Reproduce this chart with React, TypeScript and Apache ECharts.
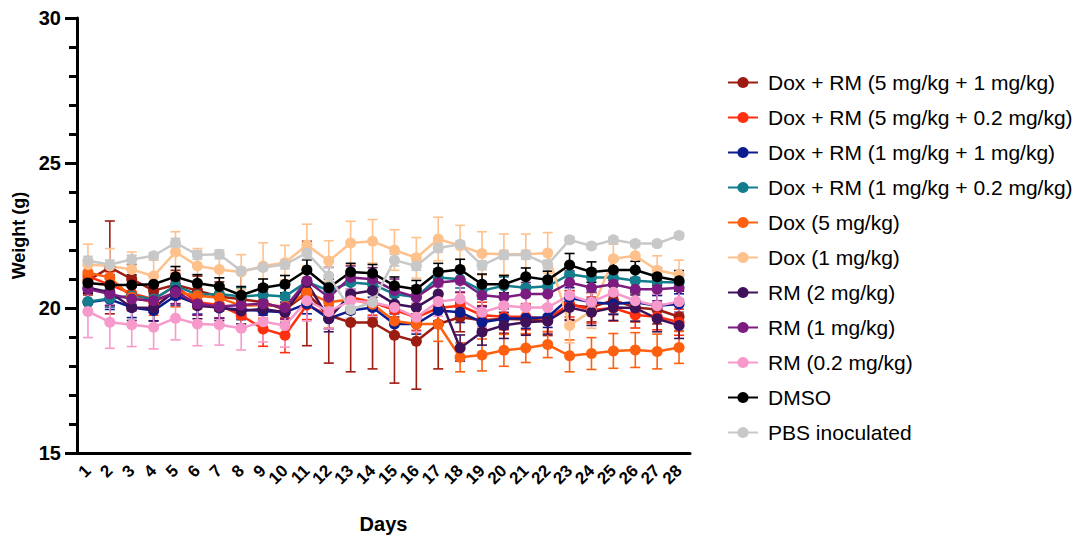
import React, { useEffect, useRef } from "react";
import * as echarts from "echarts";

const days = ["1","2","3","4","5","6","7","8","9","10","11","12","13","14","15","16","17","18","19","20","21","22","23","24","25","26","27","28"];
const yTicks = [15, 20, 25, 30];

const names = [
  "Dox + RM (5 mg/kg + 1 mg/kg)",
  "Dox + RM (5 mg/kg + 0.2 mg/kg)",
  "Dox + RM (1 mg/kg + 1 mg/kg)",
  "Dox + RM (1 mg/kg + 0.2 mg/kg)",
  "Dox (5 mg/kg)",
  "Dox (1 mg/kg)",
  "RM (2 mg/kg)",
  "RM (1 mg/kg)",
  "RM (0.2 mg/kg)",
  "DMSO",
  "PBS inoculated",
];
const colors = ["#9C1C12","#FF3010","#0B1C8F","#127D8C","#FF600F","#FFC18C","#3F1158","#7D1C80","#F899CC","#000000","#C8C8C8"];

const doxRm5_1 = [20.95,21.4,21.0,20.6,20.8,20.6,20.4,20.3,20.2,19.95,20.5,19.75,19.5,19.5,19.06,18.85,19.45,19.68,19.58,19.63,19.6,19.55,20.1,20.02,20.27,20.02,19.95,19.7];
const doxRm5_02 = [21.1,20.8,20.5,20.3,20.75,20.2,20.1,19.75,19.28,19.06,20.1,19.75,20.37,20.2,19.93,19.68,20.0,20.08,19.75,19.7,19.7,19.63,20.14,19.93,20.0,19.76,19.7,19.51];
const doxRm1_1 = [20.2,20.3,20.02,19.91,20.42,20.14,20.0,19.95,19.9,19.85,20.15,19.63,19.91,20.02,19.45,19.45,19.91,19.85,19.51,19.63,19.65,19.68,20.35,20.2,20.14,20.2,20.08,20.14];
const doxRm1_02 = [20.22,20.33,20.42,20.3,20.77,20.45,20.48,20.4,20.45,20.4,20.9,20.6,20.88,20.82,20.48,20.37,21.05,20.99,20.6,20.77,20.7,20.75,21.16,21.05,21.05,20.94,20.9,20.88];
const dox5 = [21.22,21.05,20.37,20.2,20.54,20.42,20.35,20.08,20.1,20.05,20.54,20.2,20.3,20.13,19.55,19.45,19.45,18.3,18.38,18.54,18.62,18.74,18.35,18.43,18.52,18.55,18.5,18.64];
const dox1 = [21.5,21.45,21.33,21.1,21.93,21.45,21.33,21.24,21.45,21.56,22.17,21.62,22.24,22.3,22.0,21.73,22.38,22.15,21.88,21.85,21.85,21.9,19.4,19.9,21.7,21.8,21.3,21.15];
const rm2 = [20.7,20.54,20.02,20.0,20.6,20.08,20.02,19.9,19.97,19.85,20.88,19.63,20.48,20.6,20.14,20.02,20.48,18.62,19.17,19.4,19.51,19.55,20.02,19.85,20.02,20.0,19.63,19.4];
const rm1 = [20.65,20.48,20.31,20.25,20.54,20.15,20.05,20.1,20.15,20.02,20.94,20.37,21.05,20.99,20.6,20.37,20.88,20.95,20.44,20.37,20.48,20.48,20.88,20.7,20.82,20.65,20.65,20.7];
const rm02 = [19.88,19.51,19.42,19.34,19.65,19.45,19.42,19.3,19.53,19.4,20.25,19.88,20.25,20.2,20.02,19.68,20.22,20.31,19.85,20.08,20.02,20.02,20.44,20.2,20.54,20.25,20.08,20.22];
const dmso = [20.86,20.79,20.79,20.82,21.08,20.85,20.74,20.44,20.7,20.82,21.31,20.7,21.24,21.2,20.77,20.65,21.24,21.33,20.82,20.82,21.08,20.97,21.48,21.24,21.31,21.31,21.08,20.94];
const pbs = [21.63,21.5,21.67,21.8,22.25,21.83,21.85,21.28,21.4,21.5,21.9,21.1,19.95,20.2,21.65,21.45,22.07,22.2,21.47,21.83,21.83,21.5,22.35,22.14,22.35,22.22,22.22,22.5];

const errDoxRm5_1 = [0.5,1.6,0.5,0.5,0.5,0.5,0.5,1.0,0.6,0.5,1.8,1.65,1.7,1.6,1.65,1.65,1.55,0.5,0.5,0.5,0.5,0.5,0.5,0.5,0.5,0.5,0.5,0.5];
const errDoxRm5_02 = [0.45,0.45,0.45,0.45,0.45,0.45,0.45,0.5,0.6,0.6,0.5,0.45,0.45,0.45,0.45,0.45,0.5,0.45,0.45,0.45,0.45,0.45,0.45,0.45,0.45,0.45,0.45,0.45];
const errDoxRm1_1 = [0.35,0.35,0.35,0.35,0.35,0.35,0.35,0.35,0.35,0.35,0.35,0.35,0.35,0.35,0.35,0.35,0.35,0.35,0.35,0.35,0.35,0.35,0.35,0.35,0.35,0.35,0.35,0.35];
const errDoxRm1_02 = [0.3,0.3,0.3,0.3,0.3,0.3,0.3,0.3,0.3,0.3,0.3,0.3,0.3,0.3,0.3,0.3,0.3,0.3,0.3,0.3,0.3,0.3,0.3,0.3,0.3,0.3,0.3,0.3];
const errDox5 = [0.4,0.45,0.45,0.45,0.5,0.45,0.45,0.45,0.45,0.45,0.5,0.5,0.5,0.5,0.5,0.6,0.6,0.5,0.55,0.55,0.5,0.45,0.55,0.55,0.6,0.6,0.6,0.55];
const errDox1 = [0.7,0.6,0.6,0.55,0.7,0.6,0.6,0.6,0.8,0.6,0.72,0.7,0.75,0.75,0.7,0.7,0.75,0.7,0.75,0.7,0.7,0.7,0.6,0.6,0.5,0.5,0.5,0.5];
const errRm2 = [0.45,0.45,0.45,0.45,0.45,0.45,0.45,0.45,0.45,0.45,0.45,0.45,0.45,0.45,0.45,0.45,0.45,0.45,0.45,0.45,0.45,0.45,0.45,0.45,0.45,0.45,0.45,0.45];
const errRm1 = [0.4,0.4,0.4,0.4,0.4,0.4,0.4,0.4,0.4,0.4,0.4,0.4,0.4,0.4,0.4,0.4,0.4,0.4,0.4,0.4,0.4,0.4,0.4,0.4,0.4,0.4,0.4,0.4];
const errRm02 = [0.9,0.9,0.75,0.75,0.75,0.75,0.7,0.75,0.7,0.75,0.7,0.6,0.4,0.5,0.5,0.5,0.5,0.5,0.5,0.45,0.45,0.45,0.4,0.4,0.4,0.4,0.4,0.4];
const errDmso = [0.35,0.35,0.35,0.3,0.35,0.3,0.3,0.3,0.3,0.3,0.35,0.3,0.3,0.3,0.3,0.3,0.3,0.35,0.35,0.3,0.3,0.3,0.4,0.35,0.35,0.3,0.3,0.35];
const errPbs = [0.15,0.15,0.15,0.1,0.15,0.15,0.15,0.1,0.1,0.15,0.2,0.3,0.3,0.3,0.2,0.15,0.15,0.1,0.15,0.15,0.15,0.15,0.1,0.1,0.1,0.1,0.1,0.1];

const means = [doxRm5_1, doxRm5_02, doxRm1_1, doxRm1_02, dox5, dox1, rm2, rm1, rm02, dmso, pbs];
const errs = [errDoxRm5_1, errDoxRm5_02, errDoxRm1_1, errDoxRm1_02, errDox5, errDox1, errRm2, errRm1, errRm02, errDmso, errPbs];

const FONT = "'Liberation Sans', Arial, Helvetica, sans-serif";

export default function App() {
  const ref = useRef<HTMLDivElement>(null);
  useEffect(() => {
    if (!ref.current) return;
    const chart = echarts.init(ref.current, null, { renderer: "svg" });
    const series: any[] = [];
    names.forEach((name, i) => {
      const color = colors[i];
      series.push({
        type: "custom",
        name: name + " error",
        data: means[i].map((m, j) => [j, m - errs[i][j], m + errs[i][j]]),
        encode: { x: 0, y: [1, 2] },
        silent: true,
        renderItem: (params: any, api: any) => {
          const x = api.value(0);
          const lo = api.coord([x, api.value(1)]);
          const hi = api.coord([x, api.value(2)]);
          const hw = 5;
          const style = { stroke: color, lineWidth: 1.6 };
          return {
            type: "group",
            children: [
              { type: "line", shape: { x1: lo[0], y1: lo[1], x2: hi[0], y2: hi[1] }, style },
              { type: "line", shape: { x1: lo[0] - hw, y1: lo[1], x2: lo[0] + hw, y2: lo[1] }, style },
              { type: "line", shape: { x1: hi[0] - hw, y1: hi[1], x2: hi[0] + hw, y2: hi[1] }, style },
            ],
          };
        },
      });
      series.push({
        type: "line",
        name,
        data: means[i],
        symbol: "circle",
        symbolSize: 11,
        color,
        lineStyle: { color, width: 2.5 },
        itemStyle: { color },
      });
    });
    chart.setOption({
      animation: false,
      backgroundColor: "#ffffff",
      grid: { left: 77, right: 387, top: 18, bottom: 79, containLabel: false },
      legend: {
        orient: "vertical",
        left: 722,
        top: 67,
        data: names,
        itemWidth: 30,
        itemHeight: 14,
        itemGap: 14,
        textStyle: { fontFamily: FONT, fontSize: 21, color: "#000", lineHeight: 21, padding: [0, 0, 0, 5] },
      },
      xAxis: {
        type: "category",
        data: days,
        boundaryGap: true,
        name: "Days",
        nameLocation: "middle",
        nameGap: 61,
        nameTextStyle: { fontFamily: FONT, fontSize: 20, fontWeight: "bold", color: "#000" },
        axisLine: { lineStyle: { color: "#000", width: 3 } },
        axisTick: { alignWithLabel: true, length: 11, lineStyle: { color: "#000", width: 3 } },
        axisLabel: { rotate: 45, margin: 15, fontFamily: FONT, fontSize: 17, fontWeight: "bold", color: "#000", interval: 0 },
        splitLine: { show: false },
      },
      yAxis: {
        type: "value",
        min: yTicks[0],
        max: yTicks[yTicks.length - 1],
        interval: 5,
        name: "Weight (g)",
        nameLocation: "middle",
        nameGap: 48,
        nameRotate: 90,
        nameTextStyle: { fontFamily: FONT, fontSize: 18, fontWeight: "bold", color: "#000" },
        axisLine: { show: true, lineStyle: { color: "#000", width: 3 } },
        axisTick: { show: true, length: 12, lineStyle: { color: "#000", width: 3 } },
        minorTick: { show: true, splitNumber: 5, length: 8, lineStyle: { color: "#000", width: 3 } },
        axisLabel: { margin: 16, fontFamily: FONT, fontSize: 20, fontWeight: "bold", color: "#000" },
        splitLine: { show: false },
      },
      series,
    });
    return () => chart.dispose();
  }, []);
  return (
    <div
      ref={ref}
      style={{ position: "fixed", left: 0, top: 0, width: 1077, height: 539, background: "#fff" }}
    />
  );
}
